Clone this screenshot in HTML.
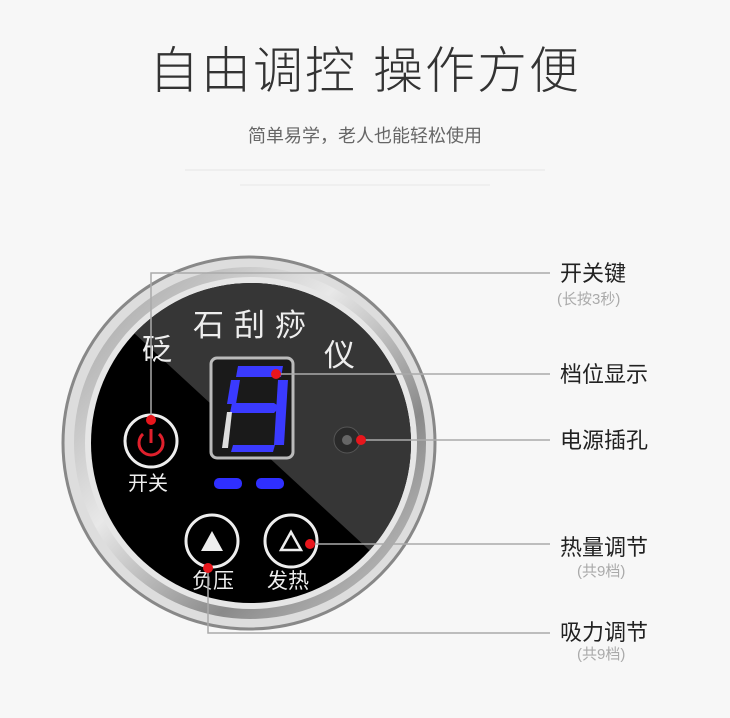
<!DOCTYPE html>
<html><head><meta charset="utf-8"><style>
body{margin:0;width:730px;height:718px;background:#f7f7f7;overflow:hidden;position:relative;font-family:"Liberation Sans","Noto Sans CJK SC",sans-serif}
.t{position:absolute;white-space:nowrap}
.l{position:absolute;left:560px;font-size:22px;color:#222;line-height:24px}
.s{position:absolute;font-size:15px;color:#aaa;line-height:16px}
</style></head><body>
<div class="t" style="left:0;width:730px;text-align:center;top:40px;font-size:50px;color:#333;letter-spacing:2px;line-height:62px;font-weight:300">自由调控 操作方便</div>
<div class="t" style="left:0;width:730px;text-align:center;top:124px;font-size:18px;color:#666;line-height:24px">简单易学，老人也能轻松使用</div>
<div class="t" style="left:185px;width:360px;top:169px;height:2px;background:#eeeeee"></div>
<div class="t" style="left:240px;width:250px;top:184px;height:2px;background:#efefef"></div>
<svg width="730" height="718" style="position:absolute;left:0;top:0">
<defs>
<linearGradient id="rg" x1="0" y1="0" x2="1" y2="1"><stop offset="0" stop-color="#9a9a9a"/><stop offset=".4" stop-color="#e8e8e8"/><stop offset=".7" stop-color="#8a8a8a"/><stop offset="1" stop-color="#cfcfcf"/></linearGradient>
<clipPath id="fc"><circle cx="251" cy="443" r="160"/></clipPath>
</defs>
<circle cx="249" cy="443" r="186" fill="#ddd" stroke="#888" stroke-width="3"/>
<circle cx="250" cy="443" r="176" fill="url(#rg)"/>
<circle cx="251" cy="443" r="166" fill="#e6e6e6"/>
<circle cx="251" cy="443" r="160" fill="#000"/>
<polygon clip-path="url(#fc)" points="120,320 130,280 420,280 430,560 380,560" fill="#363636"/>
<text x="142" y="360" font-size="30" fill="#eee" font-family="Noto Sans CJK SC">砭</text>
<text x="193" y="336" font-size="31" fill="#eee" font-family="Noto Sans CJK SC" letter-spacing="10">石刮痧</text>
<text x="324" y="366" font-size="31" fill="#eee" font-family="Noto Sans CJK SC">仪</text>
<rect x="211" y="358" width="82" height="100" rx="6" fill="#1a1a1a" stroke="#bbb" stroke-width="3"/>
<g fill="#3a3aff">
<polygon points="238,366 283,366 281,377 236,377"/>
<polygon points="231,380 240,380 236,404 227,404"/>
<polygon points="278,380 288,380 284,445 274,445"/>
<polygon points="232,403 274,403 280,407 274,413 230,413"/>
<polygon points="233,445 275,445 273,452 231,452"/>
</g>
<polygon points="227,412 232,412 228,448 222,448" fill="#ddd"/>
<rect x="214" y="478" width="28" height="11" rx="5" fill="#2f2fff"/>
<rect x="256" y="478" width="28" height="11" rx="5" fill="#2f2fff"/>
<circle cx="151" cy="441" r="26" fill="#000" stroke="#eee" stroke-width="3"/>
<path d="M143,434 A12,12 0 1 0 159,434" fill="none" stroke="#e0202c" stroke-width="3"/>
<line x1="151" y1="429" x2="151" y2="443" stroke="#e0202c" stroke-width="3"/>
<text x="128" y="490" font-size="20" fill="#eee" font-family="Noto Sans CJK SC">开关</text>
<circle cx="212" cy="541" r="26" fill="#000" stroke="#eee" stroke-width="3"/>
<polygon points="212,531 223,551 201,551" fill="#eee"/>
<circle cx="291" cy="541" r="26" fill="#000" stroke="#eee" stroke-width="3"/>
<polygon points="291,532 301,550 281,550" fill="none" stroke="#eee" stroke-width="2.5"/>
<text x="192" y="588" font-size="21" fill="#eee" font-family="Noto Sans CJK SC">负压</text>
<text x="267" y="588" font-size="21" fill="#eee" font-family="Noto Sans CJK SC">发热</text>
<circle cx="347" cy="440" r="13" fill="#2a2a2a" stroke="#555" stroke-width="1"/>
<circle cx="347" cy="440" r="5" fill="#666"/>
<g stroke="#aaa" stroke-width="1.5" fill="none">
<polyline points="151,420 151,273 550,273"/>
<line x1="276" y1="374" x2="550" y2="374"/>
<line x1="361" y1="440" x2="550" y2="440"/>
<line x1="310" y1="544" x2="550" y2="544"/>
<polyline points="208,568 208,633 550,633"/>
</g>
<g fill="#e8161c">
<circle cx="151" cy="420" r="5"/><circle cx="276" cy="374" r="5"/><circle cx="361" cy="440" r="5"/><circle cx="310" cy="544" r="5"/><circle cx="208" cy="568" r="5"/>
</g>
</svg>
<div class="l" style="top:262px">开关键</div>
<div class="s" style="left:557px;top:292px">(长按3秒)</div>
<div class="l" style="top:363px">档位显示</div>
<div class="l" style="top:429px">电源插孔</div>
<div class="l" style="top:536px">热量调节</div>
<div class="s" style="left:577px;top:564px">(共9档)</div>
<div class="l" style="top:621px">吸力调节</div>
<div class="s" style="left:577px;top:647px">(共9档)</div>
</body></html>
